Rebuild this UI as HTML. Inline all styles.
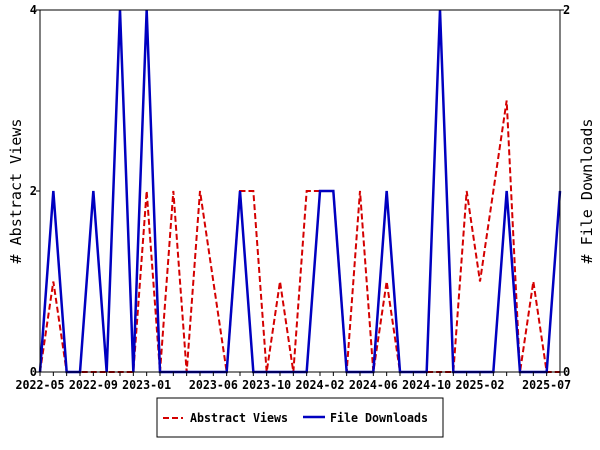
<!DOCTYPE html>
<html><head><meta charset="utf-8"><style>
body{margin:0;background:#fff}
svg{display:block;font-family:"DejaVu Sans Mono","Liberation Mono",monospace;font-weight:bold}
</style></head><body>
<svg id="chart" width="600" height="450" viewBox="0 0 600 450" xmlns="http://www.w3.org/2000/svg">
<rect width="600" height="450" fill="#fff"/>
<path id="views-line" fill="none" stroke="#d40000" stroke-width="2" stroke-dasharray="6,3"/>
<path id="dl-line" fill="none" stroke="#0000c0" stroke-width="2.5"/>
<rect x="40" y="10" width="520" height="362" fill="none" stroke="#000" stroke-width="1"/>
<g id="axes"></g>
<text transform="translate(21,191) rotate(-90)" text-anchor="middle" font-size="15" font-weight="normal" textLength="145" lengthAdjust="spacingAndGlyphs"># Abstract Views</text>
<text transform="translate(592,191) rotate(-90)" text-anchor="middle" font-size="15" font-weight="normal" textLength="145" lengthAdjust="spacingAndGlyphs"># File Downloads</text>
<g>
<rect x="157" y="398" width="286" height="39" fill="#fff" stroke="#000" stroke-width="1"/>
<line x1="163" y1="418" x2="183" y2="418" stroke="#d40000" stroke-width="2" stroke-dasharray="6,3"/>
<text x="190" y="422" font-size="12" textLength="98" lengthAdjust="spacingAndGlyphs">Abstract Views</text>
<line x1="303" y1="417" x2="325" y2="417" stroke="#0000c0" stroke-width="2.5"/>
<text x="330" y="422" font-size="12" textLength="98" lengthAdjust="spacingAndGlyphs">File Downloads</text>
</g>
</svg>
<script>
const months = 40; // 2022-05 .. 2025-08
const views = [0,1,0,0,0,0,0,0,2,0,2,0,2,1,0,2,2,0,1,0,2,2,2,0,2,0,1,0,0,0,0,0,2,1,2,3,0,1,0,0];
const downloads = [0,1,0,0,1,0,2,0,2,0,0,0,0,0,0,1,0,0,0,0,0,1,1,0,0,0,1,0,0,0,2,0,0,0,0,1,0,0,0,1];
const leftTicks = [0,2,4];
const rightTicks = [0,2];
const tickLabels = [[0,"2022-05"],[4,"2022-09"],[8,"2023-01"],[13,"2023-06"],[17,"2023-10"],[21,"2024-02"],[25,"2024-06"],[29,"2024-10"],[33,"2025-02"],[38,"2025-07"]];
const X0=40,X1=560,Y0=372,Y1=10;
const x=i=>X0+(X1-X0)*i/(months-1);
const yL=v=>Y0-(Y0-Y1)*v/4;
const yR=v=>Y0-(Y0-Y1)*v/2;
const NS="http://www.w3.org/2000/svg";
document.getElementById('views-line').setAttribute('d',views.map((v,i)=>(i?'L':'M')+x(i)+','+yL(v)).join(''));
document.getElementById('dl-line').setAttribute('d',downloads.map((v,i)=>(i?'L':'M')+x(i)+','+yR(v)).join(''));
const ax=document.getElementById('axes');
function mk(tag,attrs,txt){const e=document.createElementNS(NS,tag);for(const k in attrs)e.setAttribute(k,attrs[k]);if(txt!==undefined)e.textContent=txt;ax.appendChild(e);return e;}
for(let i=0;i<months;i++){
  const t=mk('line',{x1:x(i),x2:x(i),y1:Y0,y2:Y0+4,stroke:'#000'});
  
  
}
tickLabels.forEach(([i,l])=>{
  const t=mk('text',{x:x(i),y:Y0+17,'text-anchor':'middle','font-size':'12',textLength:'49',lengthAdjust:'spacingAndGlyphs'},l);
  
  
});
leftTicks.forEach(v=>{
  const l=mk('line',{x1:X0-4,x2:X0,y1:yL(v),y2:yL(v),stroke:'#000'});
  
  
  const t=mk('text',{x:X0-3,y:yL(v)+4,'text-anchor':'end','font-size':'12'},String(v));
  
  
});
rightTicks.forEach(v=>{
  const l=mk('line',{x1:X1,x2:X1+4,y1:yR(v),y2:yR(v),stroke:'#000'});
  
  
  const t=mk('text',{x:X1+3,y:yR(v)+4,'text-anchor':'start','font-size':'12'},String(v));
  
  
});
</script>
</body></html>
